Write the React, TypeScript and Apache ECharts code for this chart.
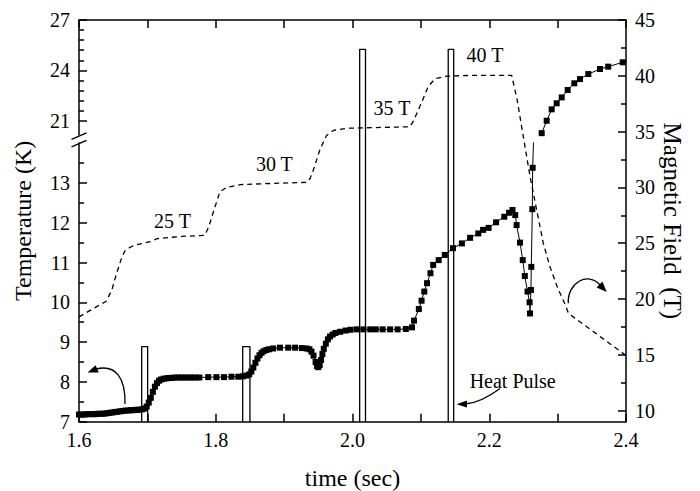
import React, { useEffect, useRef } from "react";
import * as echarts from "echarts";

// ---------- data ----------
const timeTicks = [1.6, 1.7, 1.8, 1.9, 2.0, 2.1, 2.2, 2.3, 2.4];
const timeLabels = [1.6, 1.8, 2.0, 2.2, 2.4];
const fieldMajor = [10, 15, 20, 25, 30, 35, 40, 45];
const fieldMinor = [12.5, 17.5, 22.5, 27.5, 32.5, 37.5, 42.5];
const tempLowMajor = [7, 8, 9, 10, 11, 12, 13];
const tempLowMinor = [7.5, 8.5, 9.5, 10.5, 11.5, 12.5, 13.5];
const tempHighMajor = [21, 24, 27];
const tempHighMinor = [21.6, 22.2, 22.8, 23.4, 24.6, 25.2, 25.8, 26.4];

// temperature (K) vs time (s), lower part of the broken axis
const tempLow: number[][] = [
  [1.600, 7.18], [1.604, 7.18], [1.608, 7.18], [1.612, 7.19], [1.616, 7.19], [1.620, 7.19],
  [1.624, 7.19], [1.628, 7.20], [1.632, 7.20], [1.636, 7.20], [1.640, 7.21], [1.644, 7.22],
  [1.648, 7.23], [1.652, 7.24], [1.656, 7.25], [1.660, 7.26], [1.664, 7.27], [1.668, 7.28],
  [1.672, 7.28], [1.676, 7.29], [1.680, 7.29], [1.684, 7.30], [1.688, 7.30], [1.692, 7.31],
  [1.696, 7.33], [1.699, 7.38], [1.702, 7.48], [1.705, 7.60], [1.708, 7.75], [1.711, 7.88],
  [1.714, 7.97], [1.717, 8.03], [1.720, 8.06], [1.724, 8.08], [1.728, 8.09], [1.732, 8.10],
  [1.736, 8.10], [1.740, 8.11], [1.745, 8.11], [1.750, 8.11], [1.755, 8.11], [1.760, 8.11],
  [1.765, 8.11], [1.770, 8.11], [1.776, 8.11], [1.789, 8.12], [1.801, 8.12], [1.812, 8.12],
  [1.823, 8.13], [1.833, 8.13], [1.840, 8.14], [1.845, 8.16], [1.849, 8.19], [1.852, 8.26],
  [1.855, 8.36], [1.858, 8.48], [1.861, 8.59], [1.864, 8.67], [1.867, 8.73], [1.870, 8.77],
  [1.874, 8.80], [1.878, 8.82], [1.884, 8.84], [1.894, 8.86], [1.906, 8.86], [1.916, 8.86],
  [1.926, 8.85], [1.933, 8.84], [1.937, 8.82], [1.940, 8.76], [1.943, 8.66], [1.946, 8.50],
  [1.948, 8.40], [1.950, 8.37], [1.952, 8.42], [1.954, 8.55], [1.956, 8.70], [1.958, 8.83],
  [1.961, 8.96], [1.964, 9.07], [1.967, 9.14], [1.971, 9.19], [1.975, 9.23], [1.982, 9.26],
  [1.990, 9.29], [1.997, 9.31], [2.006, 9.32], [2.016, 9.32], [2.026, 9.32], [2.034, 9.32],
  [2.044, 9.32], [2.055, 9.32], [2.066, 9.32], [2.078, 9.33], [2.087, 9.37], [2.090, 9.54],
  [2.097, 9.83], [2.101, 10.04], [2.105, 10.27], [2.109, 10.48], [2.114, 10.73], [2.118, 10.94],
  [2.126, 11.06], [2.135, 11.19], [2.147, 11.36], [2.160, 11.48], [2.172, 11.62], [2.184, 11.73],
  [2.191, 11.82], [2.199, 11.87], [2.210, 12.01], [2.222, 12.15], [2.229, 12.25], [2.234, 12.32],
  [2.238, 12.19], [2.240, 11.94], [2.245, 11.50], [2.249, 11.06], [2.252, 10.66], [2.256, 10.27],
  [2.259, 10.00], [2.2596, 9.72], [2.261, 10.31], [2.2615, 10.89], [2.263, 12.34], [2.2635, 13.38],
  [2.2767, 20.26],
];

// temperature (K) vs time (s), upper part of the broken axis
const tempHigh: number[][] = [
  [2.2767, 20.26], [2.284, 21.0], [2.2913, 21.68], [2.2986, 22.04], [2.306, 22.39],
  [2.3147, 22.83], [2.3244, 23.23], [2.3327, 23.48], [2.3449, 23.78], [2.362, 24.08],
  [2.374, 24.22], [2.3952, 24.48], [2.404, 24.58],
];

// magnetic field (T) vs time (s)
const field: number[][] = [
  [1.600, 18.4], [1.640, 19.8], [1.648, 20.8], [1.655, 22.3], [1.6625, 23.7], [1.667, 24.3],
  [1.675, 24.65], [1.684, 24.86], [1.706, 25.16], [1.714, 25.4], [1.748, 25.6], [1.784, 25.7],
  [1.790, 26.5], [1.796, 27.7], [1.806, 29.6], [1.816, 30.0], [1.836, 30.25], [1.880, 30.35],
  [1.933, 30.45], [1.938, 30.8], [1.943, 31.6], [1.9525, 33.4], [1.962, 34.65], [1.972, 35.1],
  [1.9915, 35.3], [2.084, 35.43], [2.089, 35.93], [2.101, 37.6], [2.111, 39.07], [2.121, 39.74],
  [2.138, 39.97], [2.172, 40.03], [2.2328, 40.03], [2.2406, 37.9], [2.2596, 31.0], [2.279, 25.0],
  [2.2887, 22.9], [2.300, 21.0], [2.311, 19.5], [2.316, 18.7], [2.3985, 15.0], [2.40, 14.95],
];

// heat pulses (drawn as open rectangles on the field axis)
const pulseStart = [1.6917, 1.8394, 2.0105, 2.1400];
const pulseEnd = [1.7004, 1.8500, 2.0190, 2.1480];
const pulseTop = [15.73, 15.73, 42.37, 42.37];
const fieldMin = 9;
const fieldMax = 45;

const fieldLabels = ["25 T", "30 T", "35 T", "40 T", "Heat Pulse"];

// ---------- style ----------
const FONT = "'Liberation Serif', 'Times New Roman', serif";
const BLACK = "#000";
const AX = { color: BLACK, width: 1.5 };

const G_MAIN = { left: 79, top: 20, width: 547, height: 401.7 };
const G_LOW = { left: 79, top: 143.1, width: 547, height: 278.6 };
const G_HIGH = { left: 79, top: 20, width: 547, height: 115 };

function makeOption() {
  const grids = [G_MAIN, G_LOW, G_HIGH, G_MAIN, G_LOW, G_HIGH].map((g) => ({
    ...g,
    containLabel: false,
    outerBoundsMode: "none",
  }));

  const hiddenX = (gi: number) => ({
    gridIndex: gi,
    type: "value",
    min: 1.6,
    max: 2.4,
    show: false,
  });

  const labelStyle = { fontSize: 20, fontFamily: FONT, color: BLACK };

  const xAxis = [
    {
      gridIndex: 0,
      type: "value",
      position: "bottom",
      min: 1.6,
      max: 2.4,
      axisLine: { show: true, onZero: false, lineStyle: AX },
      axisTick: { show: true, inside: true, length: 8, customValues: timeTicks, lineStyle: AX },
      axisLabel: {
        ...labelStyle,
        margin: 8,
        customValues: timeLabels,
        formatter: (v: number) => v.toFixed(1),
      },
      splitLine: { show: false },
      name: "time (sec)",
      nameLocation: "middle",
      nameGap: 44,
      nameMoveOverlap: false,
      nameTextStyle: { fontSize: 24, fontFamily: FONT, color: BLACK },
    },
    {
      gridIndex: 0,
      type: "value",
      position: "top",
      min: 1.6,
      max: 2.4,
      axisLine: { show: true, onZero: false, lineStyle: AX },
      axisTick: { show: true, inside: true, length: 8, customValues: timeTicks, lineStyle: AX },
      axisLabel: { show: false },
      splitLine: { show: false },
    },
    hiddenX(1),
    hiddenX(2),
    hiddenX(3),
    hiddenX(4),
    hiddenX(5),
  ];

  const yAxis = [
    // 0: field axis (right), major ticks + labels + title
    {
      gridIndex: 0,
      type: "value",
      position: "right",
      min: fieldMin,
      max: fieldMax,
      axisLine: { show: true, onZero: false, lineStyle: AX },
      axisTick: { show: true, inside: true, length: 8, customValues: fieldMajor, lineStyle: AX },
      axisLabel: { ...labelStyle, margin: 9, customValues: fieldMajor },
      splitLine: { show: false },
      name: "Magnetic Field  (T)",
      nameLocation: "middle",
      nameRotate: -90,
      nameGap: 34,
      nameMoveOverlap: false,
      nameTextStyle: { fontSize: 25, fontFamily: FONT, color: BLACK, whiteSpace: "pre" },
    },
    // 1: temperature title (left, full height)
    {
      gridIndex: 0,
      type: "value",
      position: "left",
      min: 0,
      max: 1,
      axisLine: { show: false },
      axisTick: { show: false },
      axisLabel: { show: false },
      splitLine: { show: false },
      name: "Temperature (K)",
      nameLocation: "middle",
      nameRotate: 90,
      nameGap: 44,
      nameMoveOverlap: false,
      nameTextStyle: { fontSize: 24, fontFamily: FONT, color: BLACK },
    },
    // 2: lower temperature axis
    {
      gridIndex: 1,
      type: "value",
      position: "left",
      min: 7,
      max: 14,
      axisLine: { show: true, onZero: false, lineStyle: AX },
      axisTick: { show: true, inside: true, length: 8, customValues: tempLowMajor, lineStyle: AX },
      axisLabel: { ...labelStyle, margin: 9, customValues: tempLowMajor },
      splitLine: { show: false },
    },
    // 3: upper temperature axis
    {
      gridIndex: 2,
      type: "value",
      position: "left",
      min: 20.15,
      max: 27,
      axisLine: { show: true, onZero: false, lineStyle: AX },
      axisTick: { show: true, inside: true, length: 8, customValues: tempHighMajor, lineStyle: AX },
      axisLabel: { ...labelStyle, margin: 9, customValues: tempHighMajor },
      splitLine: { show: false },
    },
    // 4: field minor ticks
    {
      gridIndex: 3,
      type: "value",
      position: "right",
      min: fieldMin,
      max: fieldMax,
      axisLine: { show: false },
      axisTick: { show: true, inside: true, length: 5, customValues: fieldMinor, lineStyle: AX },
      axisLabel: { show: false },
      splitLine: { show: false },
    },
    // 5: lower temperature minor ticks
    {
      gridIndex: 4,
      type: "value",
      position: "left",
      min: 7,
      max: 14,
      axisLine: { show: false },
      axisTick: { show: true, inside: true, length: 5, customValues: tempLowMinor, lineStyle: AX },
      axisLabel: { show: false },
      splitLine: { show: false },
    },
    // 6: upper temperature minor ticks
    {
      gridIndex: 5,
      type: "value",
      position: "left",
      min: 20.15,
      max: 27,
      axisLine: { show: false },
      axisTick: { show: true, inside: true, length: 5, customValues: tempHighMinor, lineStyle: AX },
      axisLabel: { show: false },
      splitLine: { show: false },
    },
  ];

  const pulseSeries = pulseStart.map((s, i) => ({
    type: "line",
    xAxisIndex: 0,
    yAxisIndex: 0,
    data: [
      [s, fieldMin],
      [s, pulseTop[i]],
      [pulseEnd[i], pulseTop[i]],
      [pulseEnd[i], fieldMin],
    ],
    symbol: "none",
    lineStyle: { color: BLACK, width: 1.3 },
    clip: false,
    z: 2,
  }));

  const series = [
    ...pulseSeries,
    {
      type: "line",
      xAxisIndex: 0,
      yAxisIndex: 0,
      data: field,
      symbol: "none",
      lineStyle: { color: BLACK, width: 1.3, type: [5, 4] },
      z: 3,
    },
    {
      type: "line",
      xAxisIndex: 2,
      yAxisIndex: 2,
      data: tempLow,
      symbol: "rect",
      symbolSize: 6,
      itemStyle: { color: BLACK },
      lineStyle: { color: BLACK, width: 1 },
      clip: true,
      z: 4,
    },
    {
      type: "line",
      xAxisIndex: 3,
      yAxisIndex: 3,
      data: tempHigh,
      symbol: "rect",
      symbolSize: 6,
      itemStyle: { color: BLACK },
      lineStyle: { color: BLACK, width: 1 },
      clip: true,
      z: 4,
    },
  ];

  const textPos = [
    [172.5, 221],
    [274.3, 163.5],
    [392, 107.5],
    [485, 55],
    [512.7, 381],
  ];
  const texts = fieldLabels.map((t, i) => ({
    type: "text",
    x: textPos[i][0],
    y: textPos[i][1],
    style: {
      text: t,
      fontSize: 20,
      fontFamily: FONT,
      fill: BLACK,
      align: "center",
      verticalAlign: "middle",
    },
    z: 10,
  }));

  const stroke = { stroke: BLACK, lineWidth: 1.3, fill: null };
  const graphic = [
    // axis break marks
    { type: "line", shape: { x1: 71.5, y1: 139.3, x2: 86.5, y2: 132.8 }, style: { stroke: BLACK, lineWidth: 1.4 }, z: 10 },
    { type: "line", shape: { x1: 71.5, y1: 146.9, x2: 86.5, y2: 140.4 }, style: { stroke: BLACK, lineWidth: 1.4 }, z: 10 },
    ...texts,
    // arrow to the temperature axis
    {
      type: "bezierCurve",
      shape: { x1: 125, y1: 404, cpx1: 125.5, cpy1: 378, cpx2: 116, cpy2: 364, x2: 96, y2: 369 },
      style: stroke,
      z: 10,
    },
    { type: "polygon", shape: { points: [[87.5, 372.5], [98.8, 372.6], [95.6, 365.2]] }, style: { fill: BLACK }, z: 10 },
    // arrow to the field axis
    {
      type: "bezierCurve",
      shape: { x1: 568.3, y1: 303.3, cpx1: 567, cpy1: 283, cpx2: 588, cpy2: 271, x2: 600, y2: 285 },
      style: stroke,
      z: 10,
    },
    { type: "polygon", shape: { points: [[606.7, 292], [596.6, 287.4], [602.4, 281.6]] }, style: { fill: BLACK }, z: 10 },
    // heat pulse arrow
    {
      type: "bezierCurve",
      shape: { x1: 500, y1: 388.5, cpx1: 490, cpy1: 396, cpx2: 478, cpy2: 403, x2: 465, y2: 404 },
      style: stroke,
      z: 10,
    },
    { type: "polygon", shape: { points: [[456.5, 404.3], [467, 400.6], [467, 407.6]] }, style: { fill: BLACK }, z: 10 },
  ];

  return {
    animation: false,
    backgroundColor: "#fff",
    textStyle: { fontFamily: FONT },
    grid: grids,
    xAxis,
    yAxis,
    series,
    graphic,
  };
}

export default function App() {
  const ref = useRef<HTMLDivElement>(null);
  useEffect(() => {
    if (!ref.current) return;
    const chart = echarts.init(ref.current, undefined, { renderer: "svg" });
    chart.setOption(makeOption() as any);
    return () => chart.dispose();
  }, []);
  return (
    <div
      ref={ref}
      style={{ position: "fixed", left: 0, top: 0, width: 700, height: 491, background: "#fff" }}
    />
  );
}
